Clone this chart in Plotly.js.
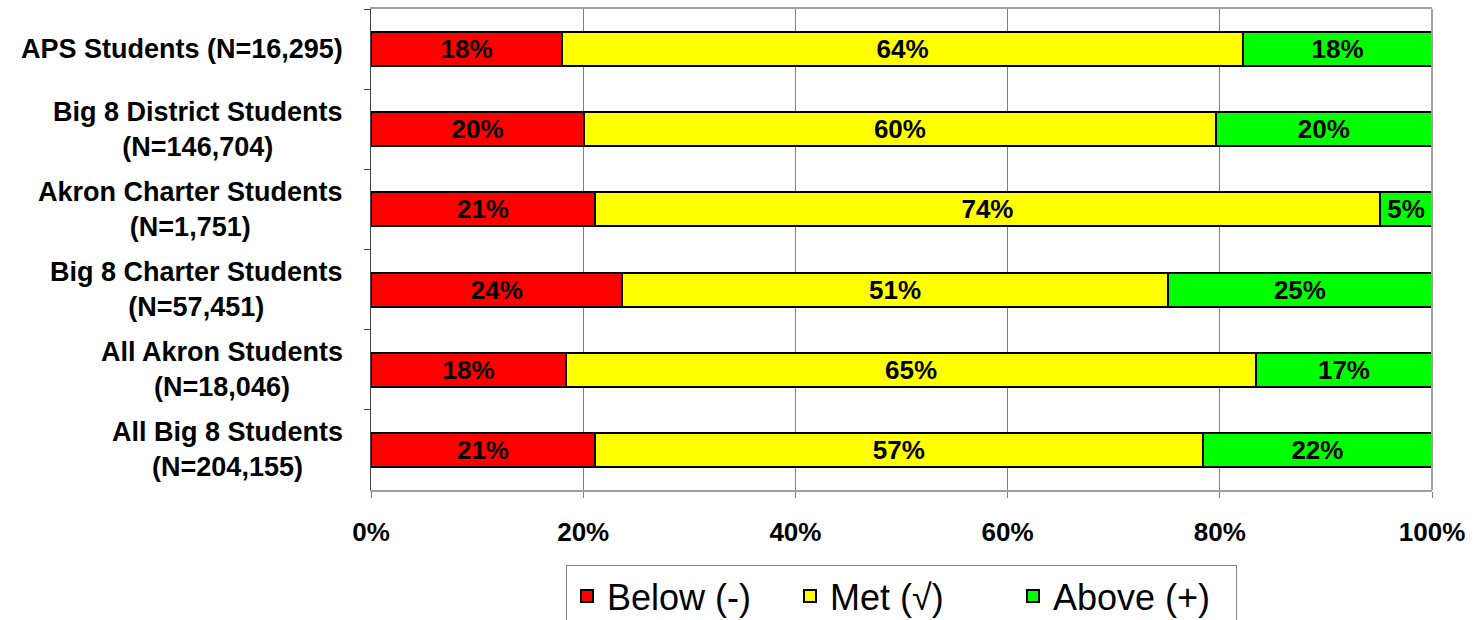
<!DOCTYPE html>
<html>
<head>
<meta charset="utf-8">
<script src="https://cdn.plot.ly/plotly-3.0.1.min.js"></script>
<style>html,body{margin:0;padding:0;background:#fff;}#chart{width:1473px;height:620px;}</style>
</head>
<body>
<div id="chart"></div>
<script>
const categories = [
  "APS Students (N=16,295)",
  "Big 8 District Students<br>(N=146,704)",
  "Akron Charter Students<br>(N=1,751)",
  "Big 8 Charter Students<br>(N=57,451)",
  "All Akron Students<br>(N=18,046)",
  "All Big 8 Students<br>(N=204,155)"
];
const below = [18.0, 20.1, 21.1, 23.7, 18.4, 21.1];
const met   = [64.2, 59.5, 74.0, 51.4, 65.0, 57.3];
const above = [17.8, 20.4, 4.9, 24.9, 16.6, 21.6];
const seriesNames = ["Below (-)", "Met (\u221A)", "Above (+)"];
const seriesColors = ["#FF0000", "#FFFF00", "#00FF00"];
const xTickVals = [0, 20, 40, 60, 80, 100];
const xTickText = ["0%", "20%", "40%", "60%", "80%", "100%"];

const FONT = "Liberation Sans, Arial, sans-serif";
const seriesValues = [below, met, above];
const traces = seriesValues.map((vals, i) => ({
  type: "bar",
  orientation: "h",
  name: seriesNames[i],
  y: categories,
  x: vals,
  marker: {color: seriesColors[i], line: {color: "#000", width: 2}},
  texttemplate: "%{x:.0f}%",
  textposition: "inside",
  insidetextanchor: "middle",
  constraintext: "none",
  textangle: 0,
  textfont: {family: FONT, size: 26, color: "#000", weight: "bold"},
  hoverinfo: "none"
}));

const annotations = categories.map(c => ({
  xref: "paper", yref: "y",
  x: -0.0245, y: c,
  xanchor: "right", yanchor: "middle",
  align: "center",
  text: c,
  showarrow: false,
  font: {family: FONT, size: 27, color: "#000", weight: "bold"}
}));

const layout = {
  width: 1473, height: 620,
  margin: {l: 371, r: 41, t: 9, b: 130, autoexpand: false},
  paper_bgcolor: "#fff", plot_bgcolor: "#fff",
  barmode: "stack",
  bargap: 0.576,
  showlegend: true,
  legend: {
    orientation: "h",
    x: 0.5, xanchor: "center",
    y: -0.156, yanchor: "top",
    bordercolor: "#808080", borderwidth: 1,
    bgcolor: "#fff",
    font: {family: FONT, size: 36, color: "#000"},
    traceorder: "normal",
    itemwidth: 30,
    entrywidth: 178,
    entrywidthmode: "pixels"
  },
  xaxis: {
    range: [0, 100],
    tickmode: "array",
    tickvals: xTickVals,
    ticktext: xTickText,
    showgrid: true, gridcolor: "#808080", gridwidth: 1,
    zeroline: false,
    showline: true, linecolor: "#a0a0a0", linewidth: 2, mirror: true,
    ticks: "outside", ticklen: 6, tickcolor: "#808080",
    ticklabelstandoff: 12,
    tickfont: {family: FONT, size: 26, color: "#000", weight: "bold"},
    fixedrange: true
  },
  yaxis: {
    type: "category",
    autorange: "reversed",
    showticklabels: false,
    tickson: "boundaries",
    ticks: "outside", ticklen: 6, tickcolor: "#404040",
    showline: true, linecolor: "#404040", linewidth: 1,
    showgrid: false, zeroline: false,
    fixedrange: true
  },
  annotations: annotations,
  shapes: [{
    type: "line", xref: "paper", yref: "paper",
    x0: 1, x1: 1, y0: 0, y1: 1,
    line: {color: "#a0a0a0", width: 2}
  }]
};

Plotly.newPlot("chart", traces, layout, {displayModeBar: false, staticPlot: true});
</script>
</body>
</html>
